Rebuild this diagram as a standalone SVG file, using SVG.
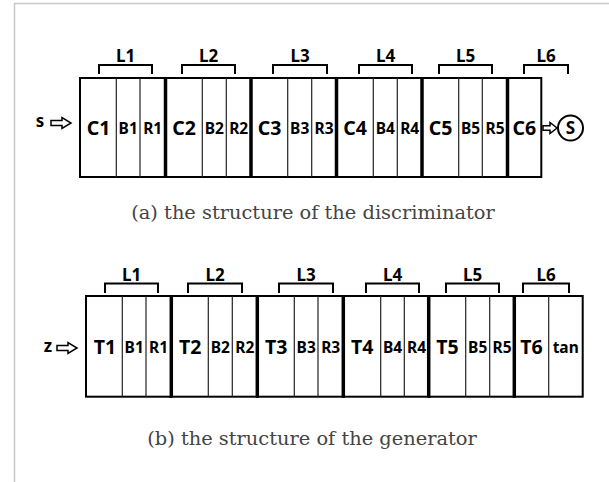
<svg xmlns="http://www.w3.org/2000/svg" width="609" height="482" viewBox="0 0 609 482">
<style>
.frame{stroke:#c8c8c8;stroke-width:1.5;fill:none}
.grp{fill:#fff;stroke:#000;stroke-width:2}
.thin{stroke:#222;stroke-width:1.2}
.thick{stroke:#000;stroke-width:3.5}
.br{fill:none;stroke:#000;stroke-width:2}
.big{font-family:"Noto Sans","Liberation Sans",sans-serif;font-weight:700;font-size:19.5px;fill:#000;text-anchor:middle}
.sm{font-family:"Noto Sans","Liberation Sans",sans-serif;font-weight:700;font-size:15.5px;fill:#000;text-anchor:middle}
.lab{font-family:"Noto Sans","Liberation Sans",sans-serif;font-weight:700;font-size:17px;fill:#000;text-anchor:middle}
.cap{font-family:"DejaVu Serif","Liberation Serif",serif;font-size:19.4px;fill:#444;text-anchor:middle}
.arr{fill:#fff;stroke:#000;stroke-width:1.5;stroke-linejoin:miter}
</style>
<line class="frame" x1="14" y1="3.5" x2="609" y2="3.5"/>
<line class="frame" x1="14.5" y1="3" x2="14.5" y2="482"/>

<!-- (a) discriminator -->
<g id="disc-L1">
<rect class="grp" x="80" y="78" width="85.5" height="99"/>
<line class="thin" x1="116.3" y1="78" x2="116.3" y2="177"/>
<line class="thin" x1="140" y1="78" x2="140" y2="177"/>
<text class="big" x="98.5" y="135">C1</text>
<text class="sm" x="128.2" y="133.5">B1</text>
<text class="sm" x="152.7" y="133.5">R1</text>
<path class="br" d="M99,74 V65 H152 V74"/>
<text class="lab" x="125.5" y="62">L1</text>
</g>
<g id="disc-L2">
<rect class="grp" x="165.5" y="78" width="85.5" height="99"/>
<line class="thin" x1="202.3" y1="78" x2="202.3" y2="177"/>
<line class="thin" x1="226.3" y1="78" x2="226.3" y2="177"/>
<text class="big" x="184" y="135">C2</text>
<text class="sm" x="214.3" y="133.5">B2</text>
<text class="sm" x="238.7" y="133.5">R2</text>
<path class="br" d="M182,74 V65 H235 V74"/>
<text class="lab" x="208.5" y="62">L2</text>
</g>
<g id="disc-L3">
<rect class="grp" x="251" y="78" width="85.5" height="99"/>
<line class="thin" x1="287.7" y1="78" x2="287.7" y2="177"/>
<line class="thin" x1="311.7" y1="78" x2="311.7" y2="177"/>
<text class="big" x="269.5" y="135">C3</text>
<text class="sm" x="299.7" y="133.5">B3</text>
<text class="sm" x="324" y="133.5">R3</text>
<path class="br" d="M273,74 V65 H327 V74"/>
<text class="lab" x="300" y="62">L3</text>
</g>
<g id="disc-L4">
<rect class="grp" x="336.5" y="78" width="85.5" height="99"/>
<line class="thin" x1="373.3" y1="78" x2="373.3" y2="177"/>
<line class="thin" x1="397.3" y1="78" x2="397.3" y2="177"/>
<text class="big" x="355" y="135">C4</text>
<text class="sm" x="385.3" y="133.5">B4</text>
<text class="sm" x="409.7" y="133.5">R4</text>
<path class="br" d="M359,74 V65 H412 V74"/>
<text class="lab" x="385.5" y="62">L4</text>
</g>
<g id="disc-L5">
<rect class="grp" x="422" y="78" width="85.5" height="99"/>
<line class="thin" x1="458.7" y1="78" x2="458.7" y2="177"/>
<line class="thin" x1="482.3" y1="78" x2="482.3" y2="177"/>
<text class="big" x="440.5" y="135">C5</text>
<text class="sm" x="470.5" y="133.5">B5</text>
<text class="sm" x="495" y="133.5">R5</text>
<path class="br" d="M439,74 V65 H492 V74"/>
<text class="lab" x="465.5" y="62">L5</text>
</g>
<g id="disc-L6">
<rect class="grp" x="507.5" y="78" width="33.8" height="99"/>
<text class="big" x="524.4" y="135">C6</text>
<path class="br" d="M524,74 V65 H568 V74"/>
<text class="lab" x="546" y="62">L6</text>
</g>
<g id="disc-sep">
<line class="thick" x1="165.5" y1="77" x2="165.5" y2="178"/>
<line class="thick" x1="251" y1="77" x2="251" y2="178"/>
<line class="thick" x1="336.5" y1="77" x2="336.5" y2="178"/>
<line class="thick" x1="422" y1="77" x2="422" y2="178"/>
<line class="thick" x1="507.5" y1="77" x2="507.5" y2="178"/>
</g>
<g id="disc-input">
<text class="lab" x="40" y="127">s</text>
</g>
<g id="disc-output">
<circle cx="570.5" cy="128" r="12.5" fill="#fff" stroke="#000" stroke-width="2"/>
<text class="lab" x="570.5" y="134">S</text>
</g>
<text class="cap" x="313" y="219">(a) the structure of the discriminator</text>

<!-- (b) generator -->
<g id="gen-L1">
<rect class="grp" x="86" y="296" width="85.3" height="100.7"/>
<line class="thin" x1="122.3" y1="296" x2="122.3" y2="396.7"/>
<line class="thin" x1="146" y1="296" x2="146" y2="396.7"/>
<text class="big" x="105" y="354">T1</text>
<text class="sm" x="134.2" y="352.5">B1</text>
<text class="sm" x="158.6" y="352.5">R1</text>
<path class="br" d="M105,293 V283.5 H158 V293"/>
<text class="lab" x="131.5" y="281">L1</text>
</g>
<g id="gen-L2">
<rect class="grp" x="171.3" y="296" width="86" height="100.7"/>
<line class="thin" x1="208.3" y1="296" x2="208.3" y2="396.7"/>
<line class="thin" x1="232.3" y1="296" x2="232.3" y2="396.7"/>
<text class="big" x="190.3" y="354">T2</text>
<text class="sm" x="220.3" y="352.5">B2</text>
<text class="sm" x="244.8" y="352.5">R2</text>
<path class="br" d="M188,293 V283.5 H242 V293"/>
<text class="lab" x="215" y="281">L2</text>
</g>
<g id="gen-L3">
<rect class="grp" x="257.3" y="296" width="86" height="100.7"/>
<line class="thin" x1="294.3" y1="296" x2="294.3" y2="396.7"/>
<line class="thin" x1="318" y1="296" x2="318" y2="396.7"/>
<text class="big" x="276.3" y="354">T3</text>
<text class="sm" x="306.2" y="352.5">B3</text>
<text class="sm" x="330.7" y="352.5">R3</text>
<path class="br" d="M279,293 V283.5 H333 V293"/>
<text class="lab" x="306" y="281">L3</text>
</g>
<g id="gen-L4">
<rect class="grp" x="343.3" y="296" width="85.4" height="100.7"/>
<line class="thin" x1="380.7" y1="296" x2="380.7" y2="396.7"/>
<line class="thin" x1="404.3" y1="296" x2="404.3" y2="396.7"/>
<text class="big" x="362.3" y="354">T4</text>
<text class="sm" x="392.5" y="352.5">B4</text>
<text class="sm" x="416.5" y="352.5">R4</text>
<path class="br" d="M366,293 V283.5 H419 V293"/>
<text class="lab" x="392.5" y="281">L4</text>
</g>
<g id="gen-L5">
<rect class="grp" x="428.7" y="296" width="85.6" height="100.7"/>
<line class="thin" x1="465.7" y1="296" x2="465.7" y2="396.7"/>
<line class="thin" x1="489.7" y1="296" x2="489.7" y2="396.7"/>
<text class="big" x="447.5" y="354">T5</text>
<text class="sm" x="477.7" y="352.5">B5</text>
<text class="sm" x="502" y="352.5">R5</text>
<path class="br" d="M446,293 V283.5 H499 V293"/>
<text class="lab" x="472.5" y="281">L5</text>
</g>
<g id="gen-L6">
<rect class="grp" x="514.3" y="296" width="68.4" height="100.7"/>
<line class="thin" x1="548.7" y1="296" x2="548.7" y2="396.7"/>
<text class="big" x="531.5" y="354">T6</text>
<text class="sm" x="565.7" y="352.5">tan</text>
<path class="br" d="M523,293 V283.5 H569 V293"/>
<text class="lab" x="546" y="281">L6</text>
</g>
<g id="gen-sep">
<line class="thick" x1="171.3" y1="295" x2="171.3" y2="397.7"/>
<line class="thick" x1="257.3" y1="295" x2="257.3" y2="397.7"/>
<line class="thick" x1="343.3" y1="295" x2="343.3" y2="397.7"/>
<line class="thick" x1="428.7" y1="295" x2="428.7" y2="397.7"/>
<line class="thick" x1="514.3" y1="295" x2="514.3" y2="397.7"/>
</g>
<g id="gen-input">
<text class="lab" x="48" y="352">z</text>
</g>
<text class="cap" x="312" y="444.5">(b) the structure of the generator</text>

<g id="connectors">
<path class="arr" d="M51,120.5 H62 V117.5 L71,123 L62,128.5 V125.5 H51 Z"/>
<path class="arr" d="M543,125.8 H550 V122.5 L557,128 L550,133.5 V130.2 H543 Z"/>
<path class="arr" d="M57,345.5 H68 V342.5 L77,348 L68,353.5 V350.5 H57 Z"/>
</g>
</svg>
